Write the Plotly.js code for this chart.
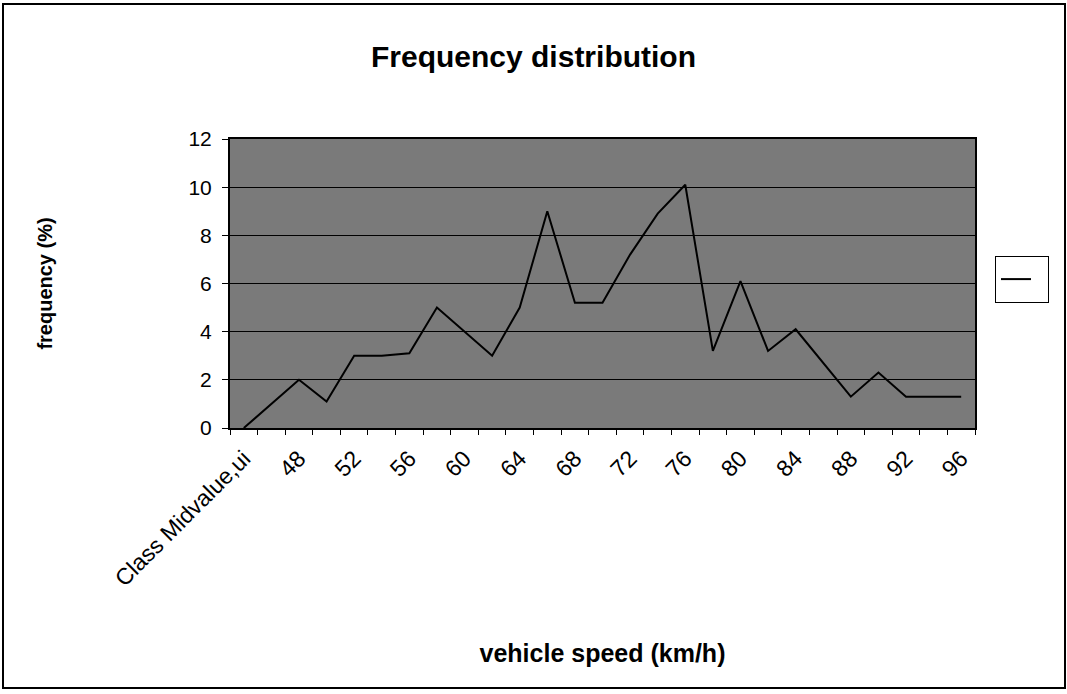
<!DOCTYPE html>
<html>
<head>
<meta charset="utf-8">
<script src="https://cdn.plot.ly/plotly-3.0.1.min.js"></script>
<style>
html,body{margin:0;padding:0;background:#fff;}
#chart{width:1067px;height:694px;}
</style>
</head>
<body>
<div id="chart"></div>
<script>
// Categories (class mid-values of vehicle speed)
const categories = ['Class Midvalue,ui','46','48','50','52','54','56','58','60','62','64','66','68','70','72','74','76','78','80','82','84','86','88','90','92','94','96'];
// Frequency (%)
const frequency = [0, 1, 2, 1.1, 3, 3, 3.1, 5, 4, 3, 5, 9, 5.2, 5.2, 7.2, 8.9, 10.1, 3.2, 6.1, 3.2, 4.1, 2.7, 1.3, 2.3, 1.3, 1.3, 1.3];
// Tick labels: every other category is labelled
const tickLabels = categories.map((c, i) => (i % 2 === 0 ? c : ''));
const yTicks = [0, 2, 4, 6, 8, 10, 12];

const font = 'Arial, "Liberation Sans", sans-serif';

const trace = {
  x: categories,
  y: frequency,
  type: 'scatter',
  mode: 'lines',
  name: ' ',
  line: {color: '#000000', width: 2},
  showlegend: true
};

const layout = {
  width: 1067,
  height: 694,
  margin: {l: 230, r: 92, t: 139, b: 266},
  paper_bgcolor: '#ffffff',
  plot_bgcolor: '#7a7a7a',
  font: {family: font, color: '#000000', size: 20},
  title: {
    text: '<b>Frequency distribution</b>',
    font: {family: font, size: 30, color: '#000000'},
    xref: 'container', yref: 'container',
    x: 0.5, y: 1 - 56/694, xanchor: 'center', yanchor: 'middle'
  },
  xaxis: {
    type: 'category',
    range: [-0.5, categories.length - 0.5],
    tickmode: 'array',
    tickvals: categories,
    ticktext: tickLabels,
    tickson: 'boundaries',
    tickangle: -45,
    ticks: 'outside',
    ticklen: 5,
    tickcolor: '#000000',
    ticklabelstandoff: 6,
    showgrid: false,
    showline: true,
    linecolor: '#000000',
    linewidth: 2,
    mirror: true,
    zeroline: false,
    tickfont: {family: font, size: 23, color: '#000000'},
    title: {
      text: '<b>vehicle speed (km/h)</b>',
      font: {family: font, size: 25, color: '#000000'},
      standoff: 54
    }
  },
  yaxis: {
    range: [0, 12],
    tickvals: yTicks,
    ticks: 'outside',
    ticklen: 6,
    tickcolor: '#000000',
    ticklabelstandoff: 6,
    showgrid: true,
    gridcolor: '#000000',
    gridwidth: 1,
    showline: true,
    linecolor: '#000000',
    linewidth: 2,
    mirror: true,
    zeroline: false,
    tickfont: {family: font, size: 21, color: '#000000'},
    title: {
      text: '<b>frequency (%)</b>',
      font: {family: font, size: 20, color: '#000000'},
      standoff: 130
    }
  },
  legend: {
    x: (995 - 230) / 745,
    y: (428 - 256) / 289,
    xanchor: 'left',
    yanchor: 'top',
    bgcolor: '#ffffff',
    bordercolor: '#000000',
    borderwidth: 1,
    font: {size: 24}
  },
  shapes: [{
    type: 'rect',
    xref: 'paper', yref: 'paper',
    x0: (3 - 230) / 745, x1: (1065 - 230) / 745,
    y0: (428 - 688) / 289, y1: (428 - 4) / 289,
    line: {color: '#000000', width: 2},
    fillcolor: 'rgba(0,0,0,0)',
    layer: 'below'
  }]
};

Plotly.newPlot('chart', [trace], layout, {displayModeBar: false, staticPlot: true});
</script>
</body>
</html>
